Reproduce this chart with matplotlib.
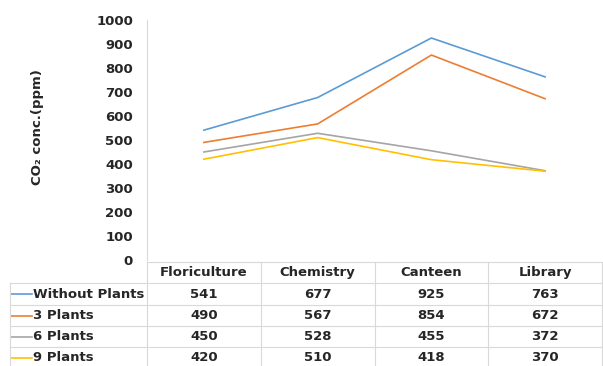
import matplotlib.pyplot as plt
import matplotlib.transforms as mtransforms

# --- data ---
sites = ['Floriculture', 'Chemistry', 'Canteen', 'Library']
series_names = ['Without Plants', '3 Plants', '6 Plants', '9 Plants']
without_plants = [541, 677, 925, 763]
plants_3 = [490, 567, 854, 672]
plants_6 = [450, 528, 455, 372]
plants_9 = [420, 510, 418, 370]
y_ticks = [0, 100, 200, 300, 400, 500, 600, 700, 800, 900, 1000]

series = [without_plants, plants_3, plants_6, plants_9]
colors = ['#5B9BD5', '#ED7D31', '#A5A5A5', '#FFC000']
grid_col = '#D9D9D9'
txt_col = '#262626'
W, H = 603, 366

plt.rcParams['font.family'] = 'DejaVu Sans'
fig = plt.figure(figsize=(W / 100, H / 100), dpi=100)

# axes in pixel terms: left 147, right 602, top 20, bottom 260
ax = fig.add_axes([147 / W, 1 - 260 / H, (602 - 147) / W, 240 / H])
x = list(range(len(sites)))
for vals, c in zip(series, colors):
    ax.plot(x, vals, color=c, lw=1.2)

ax.set_xlim(-0.5, len(sites) - 0.5)
ax.set_ylim(0, 1000)
ax.set_yticks(y_ticks)
ax.set_yticklabels([str(v) for v in y_ticks], fontsize=9.5,
                   fontweight='bold', color=txt_col)
ax.tick_params(axis='y', length=0, pad=10)
ax.set_xticks([])
for s in ['top', 'right', 'bottom']:
    ax.spines[s].set_visible(False)
ax.spines['left'].set_color(grid_col)
ax.spines['left'].set_linewidth(0.8)

fig.text(38 / W, 1 - 127 / H, 'CO\u2082 conc.(ppm)', rotation=90,
         ha='center', va='center', fontsize=9.5, fontweight='bold', color=txt_col)

# --- data table under the plot ---
def fy(px):
    return 1 - px / H

def fx(px):
    return px / W

blend = mtransforms.blended_transform_factory(ax.transData, fig.transFigure)
row_edges = [262, 283, 305, 326, 347, 368]

# header row
for i, name in enumerate(sites):
    fig.text(i, fy((row_edges[0] + row_edges[1]) / 2), name, transform=blend,
             ha='center', va='center', fontsize=9.5, fontweight='bold', color=txt_col)

# data rows
for r, (name, vals, c) in enumerate(zip(series_names, series, colors)):
    yc = fy((row_edges[r + 1] + row_edges[r + 2]) / 2)
    fig.add_artist(plt.Line2D([fx(11), fx(32)], [yc, yc], color=c, lw=1.2))
    fig.text(fx(33), yc, name, ha='left', va='center', fontsize=9.5,
             fontweight='bold', color=txt_col)
    for i, v in enumerate(vals):
        fig.text(i, yc, str(v), transform=blend, ha='center', va='center',
                 fontsize=9.5, fontweight='bold', color=txt_col)

# table grid lines
fig.add_artist(plt.Line2D([fx(147), fx(602)], [fy(row_edges[0])] * 2,
                          color=grid_col, lw=0.8))
for yy in row_edges[1:-1]:
    fig.add_artist(plt.Line2D([fx(10), fx(602)], [fy(yy)] * 2,
                              color=grid_col, lw=0.8))
fig.add_artist(plt.Line2D([fx(10), fx(10)], [fy(row_edges[1]), fy(H)],
                          color=grid_col, lw=0.8))
fig.add_artist(plt.Line2D([fx(147), fx(147)], [fy(row_edges[0]), fy(H)],
                          color=grid_col, lw=0.8))
for i in range(1, len(sites) + 1):
    fig.add_artist(plt.Line2D([i - 0.5, i - 0.5], [fy(row_edges[0]), fy(H)],
                              transform=blend, color=grid_col, lw=0.8))

fig.savefig('out.png', dpi=100)
